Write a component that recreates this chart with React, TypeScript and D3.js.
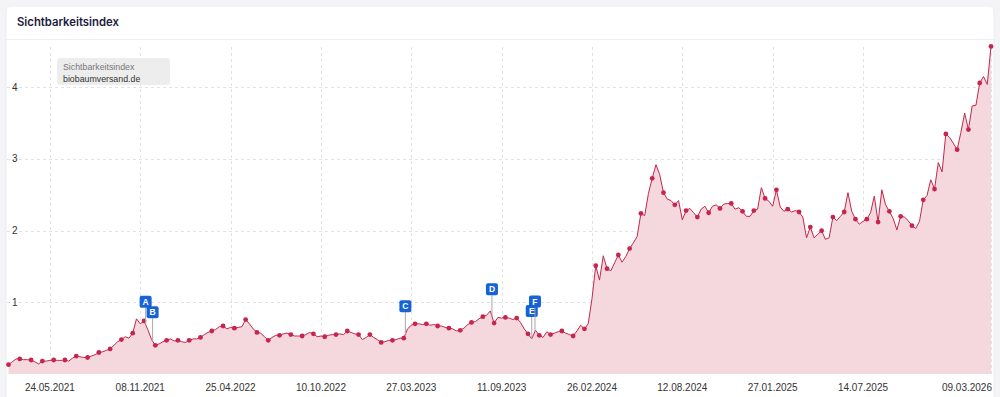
import * as d3 from "d3";

// weekly Sichtbarkeitsindex values, starting Monday 08.03.2021
const startDate = new Date(2021, 2, 8);
const values2021 = [
  0.13, 0.17, 0.21, 0.21, 0.2, 0.2, 0.195, 0.17, 0.14, 0.18, 0.18, 0.19, 0.195, 0.19, 0.19, 0.195,
  0.18, 0.22, 0.25, 0.24, 0.23, 0.23, 0.25, 0.27, 0.3, 0.31, 0.33, 0.35, 0.4, 0.45, 0.48, 0.52,
  0.5, 0.57, 0.77, 0.7, 0.74, 0.62, 0.48, 0.4, 0.42, 0.45, 0.47, 0.49, 0.46, 0.47, 0.45, 0.44,
];
const values2022 = [
  0.47, 0.49, 0.49, 0.51, 0.55, 0.58, 0.6, 0.62, 0.66, 0.67, 0.63, 0.65, 0.64, 0.65, 0.66, 0.76,
  0.7, 0.63, 0.58, 0.57, 0.52, 0.47, 0.51, 0.54, 0.54, 0.56, 0.57, 0.55, 0.53, 0.53, 0.53, 0.55,
  0.58, 0.56, 0.52, 0.53, 0.52, 0.54, 0.55, 0.55, 0.56, 0.55, 0.6, 0.58, 0.56, 0.55, 0.48, 0.51,
  0.55, 0.51, 0.48, 0.44,
];
const values2023 = [
  0.45, 0.47, 0.47, 0.48, 0.5, 0.5, 0.63, 0.68, 0.7, 0.7, 0.69, 0.7, 0.68, 0.69, 0.67, 0.67,
  0.65, 0.64, 0.63, 0.6, 0.61, 0.64, 0.69, 0.72, 0.73, 0.77, 0.8, 0.82, 0.88, 0.71, 0.79, 0.78,
  0.79, 0.78, 0.76, 0.78, 0.72, 0.63, 0.56, 0.49, 0.61, 0.54, 0.51, 0.59, 0.55, 0.57, 0.59, 0.6,
  0.57, 0.55, 0.53, 0.6, 0.68, 0.63,
];
const values2024 = [
  0.7, 1.05, 1.51, 1.31, 1.65, 1.47, 1.44, 1.55, 1.66, 1.56, 1.64, 1.75, 1.83, 1.92, 2.24, 2.21,
  2.52, 2.73, 2.92, 2.78, 2.53, 2.44, 2.42, 2.36, 2.42, 2.15, 2.28, 2.31, 2.25, 2.19, 2.3, 2.34,
  2.25, 2.34, 2.36, 2.31, 2.37, 2.38, 2.38, 2.3, 2.32, 2.27, 2.2, 2.2, 2.28, 2.3, 2.6, 2.45,
  2.41, 2.34, 2.57, 2.33,
];
const values2025 = [
  2.27, 2.3, 2.26, 2.28, 2.26, 2.19, 1.9, 2.05, 1.9, 1.95, 2.0, 1.88, 1.9, 2.19, 2.14, 2.2,
  2.26, 2.53, 2.27, 2.16, 2.09, 2.13, 2.16, 2.25, 2.48, 2.12, 2.57, 2.36, 2.27, 2.17, 2.01, 2.2,
  2.19, 2.14, 2.07, 2.03, 2.13, 2.43, 2.49, 2.71, 2.58, 2.95, 2.82, 3.35, 3.3, 3.22, 3.13, 3.37,
  3.64, 3.41, 3.74, 3.75, 4.06, 4.15, 4.04, 4.57,
];
const allValues = [...values2021, ...values2022, ...values2023, ...values2024, ...values2025];

const tickLabels = [
  "24.05.2021", "08.11.2021", "25.04.2022", "10.10.2022", "27.03.2023", "11.09.2023",
  "26.02.2024", "12.08.2024", "27.01.2025", "14.07.2025", "09.03.2026",
];
const yTicks = [1, 2, 3, 4];

const eventLabels = ["A", "B", "C", "D", "E", "F"];
const eventDates = ["18.11.2021", "01.12.2021", "16.03.2023", "24.08.2023", "06.11.2023", "12.11.2023"];
const eventStems = [17, 23, 22, 21, 22, 24];

const parseDe = d3.timeParse("%d.%m.%Y");

export default function App() {
  const width = 1000;
  const height = 397;
  const data = allValues.map((v, i) => ({ date: d3.timeDay.offset(startDate, i * 7), value: v }));

  const x = d3.scaleTime([startDate, data[data.length - 1].date], [8.5, 991]);
  const y = d3.scaleLinear([0, 4], [374, 87.3]);

  const line = d3.line((d) => x(d.date), (d) => y(d.value));
  const area = d3.area((d) => x(d.date), y(0), (d) => y(d.value));

  const valueAt = (date) => {
    const i = d3.bisector((d) => d.date).left(data, date);
    if (i <= 0) return data[0].value;
    const a = data[i - 1], b = data[i];
    const t = (date - a.date) / (b.date - a.date);
    return a.value + (b.value - a.value) * t;
  };

  const font = "'Liberation Sans', Arial, sans-serif";

  return (
    <svg width={width} height={height} style={{ position: "absolute", left: 0, top: 0 }}>
      <rect width={width} height={height} fill="#f4f4f6" />
      <rect x={6} y={6} width={988} height={420} rx={5} fill="#fff" stroke="#ececf0" />
      <text x={17} y={26} fontFamily="Inter, sans-serif" fontWeight="600" fontSize={11.3} fill="#1c1b3d">
        Sichtbarkeitsindex
      </text>
      <line x1={6} x2={994} y1={39.5} y2={39.5} stroke="#eeeef2" />

      {/* grid */}
      <g stroke="#e2e2e2" strokeDasharray="3,3" strokeWidth={1}>
        {yTicks.map((t) => (
          <line key={t} x1={7} x2={992} y1={Math.round(y(t)) + 0.5} y2={Math.round(y(t)) + 0.5} />
        ))}
        {tickLabels.map((t) => {
          const xx = Math.round(x(parseDe(t))) + 0.5;
          return <line key={t} x1={xx} x2={xx} y1={47} y2={374} />;
        })}
      </g>

      <path d={area(data)} fill="#f5d8de" />
      <path d={line(data)} fill="none" stroke="#c2274d" strokeWidth={1} />
      <g fill="#c8244d">
        {data.map((d, i) =>
          i % 3 === 0 ? <circle key={i} cx={x(d.date)} cy={y(d.value)} r={2.4} /> : null
        )}
      </g>

      {/* y labels */}
      <g fontFamily={font} fontSize={10} fill="#333">
        {yTicks.map((t) => (
          <text key={t} x={12} y={y(t)} dy="0.35em">{t}</text>
        ))}
      </g>

      {/* x labels */}
      <g fontFamily={font} fontSize={10} fill="#333">
        {tickLabels.map((t, i) => (
          <text
            key={t}
            x={i === tickLabels.length - 1 ? 992 : x(parseDe(t))}
            y={391}
            textAnchor={i === tickLabels.length - 1 ? "end" : "middle"}
          >
            {t}
          </text>
        ))}
      </g>

      {/* legend */}
      <rect x={57} y={58} width={113} height={27} rx={3} fill="#ededed" />
      <text x={63} y={70} fontFamily={font} fontSize={8.8} fill="#777">Sichtbarkeitsindex</text>
      <text x={63} y={81.5} fontFamily={font} fontSize={8.8} fill="#333">biobaumversand.de</text>

      {/* events */}
      {eventLabels.map((lab, i) => {
        const dt = parseDe(eventDates[i]);
        const px = x(dt);
        const py = y(valueAt(dt));
        const boxBottom = py - eventStems[i];
        return (
          <g key={lab}>
            <line x1={px} x2={px} y1={boxBottom} y2={py} stroke="#a8a8a8" strokeWidth={1} />
            <rect x={px - 6} y={boxBottom - 12} width={12} height={12} rx={2} fill="#1763d6" />
            <text
              x={px}
              y={boxBottom - 6}
              dy="0.36em"
              textAnchor="middle"
              fontFamily={font}
              fontWeight="700"
              fontSize={8.5}
              fill="#fff"
            >
              {lab}
            </text>
          </g>
        );
      })}
    </svg>
  );
}
